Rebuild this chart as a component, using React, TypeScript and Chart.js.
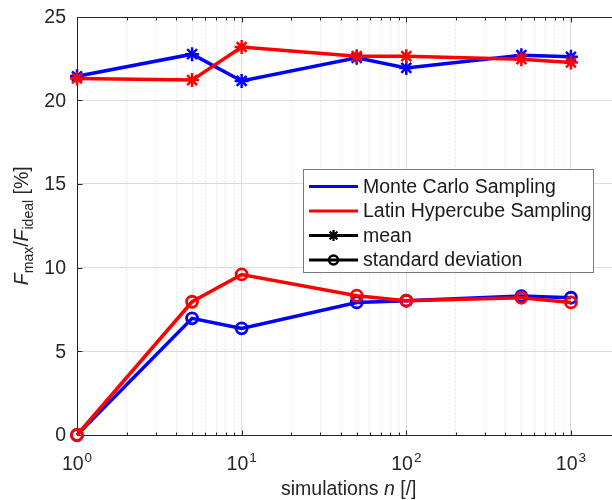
import React, { useEffect, useRef } from 'react';
import { Chart, registerables } from 'chart.js';

Chart.register(...registerables);

// ---- data ----
const nValues = [1, 5, 10, 50, 100, 500, 1000];
const mcMean = [21.43, 22.75, 21.15, 22.53, 21.93, 22.69, 22.59];
const lhsMean = [21.3, 21.2, 23.18, 22.63, 22.63, 22.45, 22.25];
const mcStd = [0, 6.97, 6.37, 7.92, 8.02, 8.3, 8.2];
const lhsStd = [0, 7.96, 9.59, 8.32, 8.02, 8.2, 7.92];

const xMajorTicks = [1, 10, 100, 1000];
const xMajorExponents = ['0', '1', '2', '3'];
const xMinorTicks = [2, 3, 4, 5, 6, 7, 8, 9, 20, 30, 40, 50, 60, 70, 80, 90, 200, 300, 400, 500, 600, 700, 800, 900];
const yTicks = [0, 5, 10, 15, 20, 25];
const yTickLabels = ['0', '5', '10', '15', '20', '25'];
const legendLabels = ['Monte Carlo Sampling', 'Latin Hypercube Sampling', 'mean', 'standard deviation'];
const xTitleParts = ['simulations ', 'n', ' [/]'];

const FONT = '"Liberation Sans", Arial, Helvetica, sans-serif';
const BLUE = '#0000ff';
const RED = '#ff0000';
const AXIS = '#262626';
const GRID = '#dcdcdc';
const MINOR = '#d4d4d4';
const FS = 19.5;

const toPts = (ys: number[]) => nValues.map((x, i) => ({ x, y: ys[i] }));

function drawStar(ctx: CanvasRenderingContext2D, x: number, y: number, r: number) {
  ctx.beginPath();
  ctx.moveTo(x - r, y); ctx.lineTo(x + r, y);
  ctx.moveTo(x, y - r); ctx.lineTo(x, y + r);
  const d = r * Math.SQRT1_2;
  ctx.moveTo(x - d, y - d); ctx.lineTo(x + d, y + d);
  ctx.moveTo(x - d, y + d); ctx.lineTo(x + d, y - d);
  ctx.stroke();
}

const decorPlugin = {
  id: 'decor',
  beforeDatasetsDraw(chart: any) {
    const { ctx, chartArea } = chart;
    const xs = chart.scales.x;
    const ys = chart.scales.y;
    const { left, right, top, bottom } = chartArea;
    ctx.save();
    ctx.strokeStyle = AXIS;
    ctx.lineWidth = 1;
    const L = Math.round(left) + 0.5, B = Math.round(bottom) + 0.5, T = Math.round(top) + 0.5;
    ctx.beginPath();
    ctx.moveTo(L, T); ctx.lineTo(right, T);
    ctx.moveTo(L, T); ctx.lineTo(L, B);
    ctx.moveTo(L, B); ctx.lineTo(right, B);
    ctx.stroke();
    ctx.beginPath();
    yTicks.forEach((v) => {
      const py = Math.round(ys.getPixelForValue(v)) + 0.5;
      ctx.moveTo(L, py); ctx.lineTo(L + 5, py);
    });
    xMajorTicks.forEach((v) => {
      const px = Math.round(xs.getPixelForValue(v)) + 0.5;
      ctx.moveTo(px, B); ctx.lineTo(px, B - 5);
      ctx.moveTo(px, T); ctx.lineTo(px, T + 5);
    });
    xMinorTicks.forEach((v) => {
      const px = Math.round(xs.getPixelForValue(v)) + 0.5;
      ctx.moveTo(px, B); ctx.lineTo(px, B - 3);
      ctx.moveTo(px, T); ctx.lineTo(px, T + 3);
    });
    ctx.stroke();
    ctx.restore();
  },
  afterDraw(chart: any) {
    const { ctx, chartArea } = chart;
    const xs = chart.scales.x;
    const ys = chart.scales.y;
    ctx.save();
    ctx.fillStyle = AXIS;
    // y tick labels
    ctx.font = `${FS}px ${FONT}`;
    ctx.textAlign = 'right';
    ctx.textBaseline = 'middle';
    yTicks.forEach((v, i) => {
      ctx.fillText(yTickLabels[i], chartArea.left - 11, ys.getPixelForValue(v) + 1);
    });
    // x tick labels 10^k
    ctx.textBaseline = 'alphabetic';
    ctx.textAlign = 'left';
    xMajorTicks.forEach((v, i) => {
      const px = xs.getPixelForValue(v);
      ctx.font = `${FS}px ${FONT}`;
      const wb = ctx.measureText('10').width;
      ctx.font = `${13.5}px ${FONT}`;
      const we = ctx.measureText(xMajorExponents[i]).width;
      const x0 = px - (wb + we + 1) / 2;
      ctx.font = `${FS}px ${FONT}`;
      ctx.fillText('10', x0, 470);
      ctx.font = `${13.5}px ${FONT}`;
      ctx.fillText(xMajorExponents[i], x0 + wb + 1, 462);
    });
    // x title
    const xc = (chartArea.left + chartArea.right) / 2;
    const fonts = [`${FS}px ${FONT}`, `italic ${FS}px ${FONT}`, `${FS}px ${FONT}`];
    let tw = 0;
    const widths = xTitleParts.map((t, i) => { ctx.font = fonts[i]; const w = ctx.measureText(t).width; tw += w; return w; });
    let cx = xc - tw / 2;
    xTitleParts.forEach((t, i) => { ctx.font = fonts[i]; ctx.fillText(t, cx, 495); cx += widths[i]; });

    // y title (rotated)
    const segs = [
      { t: 'F', f: `italic ${FS}px ${FONT}`, sub: false },
      { t: 'max', f: `14px ${FONT}`, sub: true },
      { t: '/', f: `${FS}px ${FONT}`, sub: false },
      { t: 'F', f: `italic ${FS}px ${FONT}`, sub: false },
      { t: 'ideal', f: `14px ${FONT}`, sub: true },
      { t: ' [%]', f: `${FS}px ${FONT}`, sub: false },
    ];
    let total = 0;
    const sw = segs.map((s) => { ctx.font = s.f; const w = ctx.measureText(s.t).width; total += w; return w; });
    ctx.save();
    ctx.translate(0, (chartArea.top + chartArea.bottom) / 2);
    ctx.rotate(-Math.PI / 2);
    let sx = -total / 2;
    segs.forEach((s, i) => {
      ctx.font = s.f;
      ctx.fillText(s.t, sx, s.sub ? 33 : 28);
      sx += sw[i];
    });
    ctx.restore();

    // legend
    const bx = 303.5, by = 169.5, bw = 290, bh = 103;
    ctx.fillStyle = '#ffffff';
    ctx.fillRect(bx, by, bw, bh);
    ctx.strokeStyle = '#7a7a7a';
    ctx.lineWidth = 1;
    ctx.strokeRect(bx, by, bw, bh);
    const rowColors = [BLUE, RED, '#000000', '#000000'];
    legendLabels.forEach((lab, i) => {
      const y = 186.5 + i * 24.5;
      ctx.strokeStyle = rowColors[i];
      ctx.lineWidth = 3;
      ctx.beginPath();
      ctx.moveTo(309, y); ctx.lineTo(358, y);
      ctx.stroke();
      if (i === 2) {
        ctx.lineWidth = 2.2;
        drawStar(ctx, 333.5, y, 5.5);
      } else if (i === 3) {
        ctx.lineWidth = 2.5;
        ctx.beginPath();
        ctx.arc(333.5, y, 4.5, 0, Math.PI * 2);
        ctx.stroke();
      }
      ctx.fillStyle = '#1a1a1a';
      ctx.font = `${FS}px ${FONT}`;
      ctx.textAlign = 'left';
      ctx.textBaseline = 'middle';
      ctx.fillText(lab, 363, y + 1);
    });
    ctx.restore();
  },
};

export default function App() {
  const ref = useRef<HTMLCanvasElement | null>(null);
  useEffect(() => {
    if (!ref.current) return;
    const meanStyle = (c: string, order: number) => ({
      borderColor: c, backgroundColor: c, borderWidth: 3.5, tension: 0,
      pointStyle: 'star', pointRadius: 7, pointBorderWidth: 2.5, pointBorderColor: c,
      pointBackgroundColor: c, order,
    });
    const stdStyle = (c: string, order: number) => ({
      borderColor: c, backgroundColor: c, borderWidth: 3.5, tension: 0,
      pointStyle: 'circle', pointRadius: 5.5, pointBorderWidth: 2.8, pointBorderColor: c,
      pointBackgroundColor: 'rgba(0,0,0,0)', order,
    });
    const chart = new Chart(ref.current, {
      type: 'line',
      data: {
        datasets: [
          { label: 'MC mean', data: toPts(mcMean), ...meanStyle(BLUE, 1) } as any,
          { label: 'MC std', data: toPts(mcStd), ...stdStyle(BLUE, 1) } as any,
          { label: 'LHS mean', data: toPts(lhsMean), ...meanStyle(RED, 0) } as any,
          { label: 'LHS std', data: toPts(lhsStd), ...stdStyle(RED, 0) } as any,
        ],
      },
      options: {
        animation: false,
        responsive: false,
        devicePixelRatio: 1,
        clip: false as any,
        layout: { padding: { left: 77, right: 9.4, top: 16.5, bottom: 65 } },
        plugins: { legend: { display: false }, tooltip: { enabled: false }, title: { display: false } },
        scales: {
          x: {
            type: 'logarithmic', min: 1, max: 2000, position: 'bottom',
            afterBuildTicks: (s: any) => { s.ticks = xMajorTicks.map((v) => ({ value: v, major: true })); },
            afterFit: (s: any) => { s.height = 0; },
            grid: { color: (c: any) => (c.tick && c.tick.value === 1 ? 'rgba(0,0,0,0)' : GRID), lineWidth: 1, drawTicks: false },
            border: { display: false },
            ticks: { display: false },
          },
          x2: {
            type: 'logarithmic', min: 1, max: 2000, position: 'top',
            afterBuildTicks: (s: any) => { s.ticks = xMinorTicks.map((v) => ({ value: v, major: false })); },
            afterFit: (s: any) => { s.height = 0; },
            grid: { color: MINOR, lineWidth: 1, drawTicks: false },
            border: { display: false, dash: [1, 3] },
            ticks: { display: false },
          },
          y: {
            type: 'linear', min: 0, max: 25, position: 'left',
            afterBuildTicks: (s: any) => { s.ticks = yTicks.map((v) => ({ value: v })); },
            afterFit: (s: any) => { s.width = 0; },
            grid: { color: (c: any) => (c.tick && (c.tick.value === 0 || c.tick.value === 25) ? 'rgba(0,0,0,0)' : GRID), lineWidth: 1, drawTicks: false },
            border: { display: false },
            ticks: { display: false },
          },
        },
      } as any,
      plugins: [decorPlugin],
    });
    return () => chart.destroy();
  }, []);
  return (
    <div style={{ position: 'fixed', left: 0, top: 0, width: 612, height: 500, overflow: 'hidden', background: '#ffffff' }}>
      <canvas ref={ref} width={630} height={500} style={{ display: 'block', width: 630, height: 500 }} />
    </div>
  );
}
